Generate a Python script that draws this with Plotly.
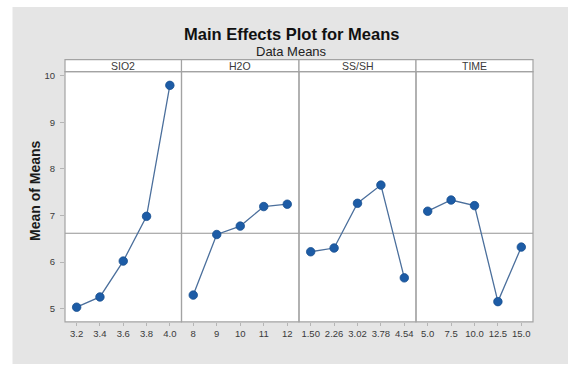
import plotly.graph_objects as go

W, H = 568, 367

factors = ["SIO2", "H2O", "SS/SH", "TIME"]
sio2_levels = ["3.2", "3.4", "3.6", "3.8", "4.0"]
sio2_means = [5.03, 5.25, 6.02, 6.98, 9.79]
h2o_levels = ["8", "9", "10", "11", "12"]
h2o_means = [5.29, 6.59, 6.77, 7.19, 7.24]
sssh_levels = ["1.50", "2.26", "3.02", "3.78", "4.54"]
sssh_means = [6.22, 6.30, 7.26, 7.65, 5.66]
time_levels = ["5.0", "7.5", "10.0", "12.5", "15.0"]
time_means = [7.09, 7.33, 7.21, 5.15, 6.32]
y_ticks = [5, 6, 7, 8, 9, 10]

levels = [sio2_levels, h2o_levels, sssh_levels, time_levels]
means = [sio2_means, h2o_means, sssh_means, time_means]
all_vals = [v for m in means for v in m]
grand_mean = sum(all_vals) / len(all_vals)

def px(x):
    return x / W

def py(y):
    return 1 - y / H

# panel edges in pixels
edges = [65, 181.5, 299, 416, 533]
plot_top, plot_bot = 70, 321.7
strip_top = 58

FONT = "Liberation Sans, Arial, sans-serif"
LINE_GREY = "#a3a3a3"
TXT = "#3a3a3a"

fig = go.Figure()

for i in range(4):
    xa = "x" if i == 0 else f"x{i+1}"
    fig.add_trace(go.Scatter(
        x=levels[i], y=means[i], xaxis=xa, yaxis="y",
        mode="lines+markers",
        line=dict(color="#4b6f9c", width=1.3),
        marker=dict(color="#1d5ca6", size=8.5,
                    line=dict(color="#184f8f", width=0.8)),
        showlegend=False, hoverinfo="skip", cliponaxis=False,
    ))

layout = dict(
    width=W, height=H,
    margin=dict(l=0, r=0, t=0, b=0),
    paper_bgcolor="white",
    plot_bgcolor="white",
    font=dict(family=FONT, color=TXT),
    showlegend=False,
)

for i in range(4):
    key = "xaxis" if i == 0 else f"xaxis{i+1}"
    layout[key] = dict(
        domain=[px(edges[i]), px(edges[i + 1])],
        anchor="y",
        type="category",
        categoryorder="array",
        categoryarray=levels[i],
        range=[-0.5, 4.5],
        showgrid=False, zeroline=False, showline=False,
        ticks="outside", ticklen=3, tickcolor="#b5b5b5", tickwidth=1,
        tickfont=dict(size=9.5, color=TXT, family=FONT),
        fixedrange=True,
    )

layout["yaxis"] = dict(
    domain=[py(plot_bot), py(plot_top)],
    anchor="x",
    range=[4.714, 10.085],
    tickvals=y_ticks,
    showgrid=False, zeroline=False, showline=False,
    ticks="outside", ticklen=4, tickcolor="#b5b5b5", tickwidth=1,
    tickfont=dict(size=9.5, color=TXT, family=FONT),
    ticklabelstandoff=3,
)

shapes = []
# grey background
shapes.append(dict(type="rect", xref="paper", yref="paper",
                   x0=px(12.5), x1=1.0, y0=py(364), y1=py(5),
                   fillcolor="#e5e5e5", line=dict(width=0), layer="below"))
# white plot background over all panels
shapes.append(dict(type="rect", xref="paper", yref="paper",
                   x0=px(edges[0]), x1=px(edges[-1]), y0=py(plot_bot), y1=py(strip_top),
                   fillcolor="white", line=dict(width=0), layer="below"))
# reference line (grand mean)
shapes.append(dict(type="line", xref="paper", yref="y",
                   x0=px(edges[0]), x1=px(edges[-1]), y0=grand_mean, y1=grand_mean,
                   line=dict(color="#959595", width=1.2), layer="below"))

annotations = []
for i in range(4):
    # panel frame
    shapes.append(dict(type="rect", xref="paper", yref="paper",
                       x0=px(edges[i]), x1=px(edges[i + 1]),
                       y0=py(plot_bot), y1=py(plot_top),
                       line=dict(color=LINE_GREY, width=1.2), layer="below"))
    # strip box
    shapes.append(dict(type="rect", xref="paper", yref="paper",
                       x0=px(edges[i]), x1=px(edges[i + 1]),
                       y0=py(plot_top), y1=py(strip_top),
                       fillcolor="white",
                       line=dict(color=LINE_GREY, width=1.2), layer="below"))
    annotations.append(dict(
        text=factors[i], xref="paper", yref="paper",
        x=px((edges[i] + edges[i + 1]) / 2), y=py(64),
        xanchor="center", yanchor="middle", showarrow=False,
        font=dict(size=10.5, color=TXT, family=FONT)))

annotations.append(dict(
    text="<b>Main Effects Plot for Means</b>", xref="paper", yref="paper",
    x=px(291), y=py(32), xanchor="center", yanchor="middle", showarrow=False,
    font=dict(size=16.5, color="#111111", family=FONT)))
annotations.append(dict(
    text="Data Means", xref="paper", yref="paper",
    x=px(291), y=py(49.5), xanchor="center", yanchor="middle", showarrow=False,
    font=dict(size=13, color="#222222", family=FONT)))
annotations.append(dict(
    text="<b>Mean of Means</b>", xref="paper", yref="paper",
    x=px(35), y=py(190), xanchor="center", yanchor="middle", showarrow=False,
    textangle=-90,
    font=dict(size=14, color="#1a1a1a", family=FONT)))

layout["shapes"] = shapes
layout["annotations"] = annotations
fig.update_layout(**layout)

fig.write_html("out.html")
